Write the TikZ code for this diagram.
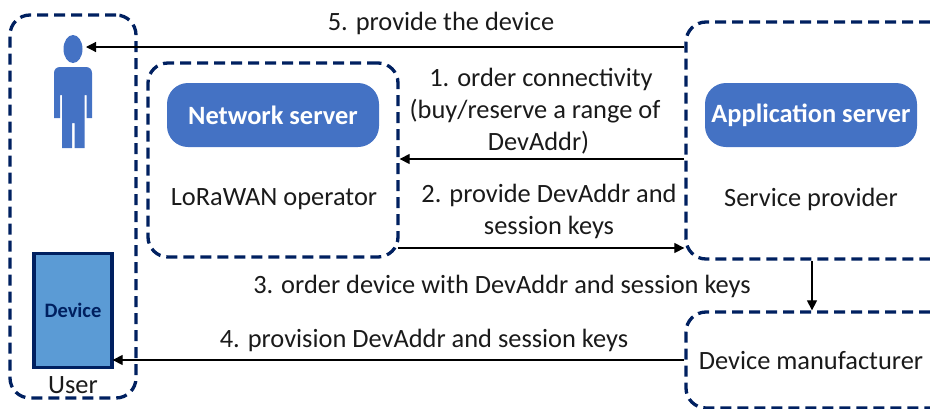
\documentclass[tikz,border=0pt]{standalone}
\usepackage{fontspec}
\setmainfont{Carlito}
\usetikzlibrary{arrows.meta,calc,shapes.geometric}
\definecolor{navy}{HTML}{002060}
\definecolor{blueA}{HTML}{4472C4}
\definecolor{blueB}{HTML}{5B9BD5}
\definecolor{txt}{HTML}{1A1A1A}
\tikzset{
  x=1pt,y=-1pt,
  dashbox/.style={draw=navy,line width=3.3pt,dash pattern=on 11pt off 6pt,rounded corners=20pt,inner sep=0pt,minimum width=#1},
  srv/.style={fill=blueA,rounded corners=21pt,text=white,font=\fontsize{26.4}{30}\selectfont\bfseries,inner sep=0pt,minimum height=64pt},
  lab/.style={text=txt,font=\fontsize{26.4}{32}\selectfont,align=center,inner sep=0pt},
  conn/.style={draw=black,line width=1.2pt,-{Triangle[length=10pt,width=10pt]}},
}
\begin{document}
\begin{tikzpicture}
\useasboundingbox (0,0) rectangle (930,408);
\clip (0,0) rectangle (930,408);
% boxes
\node[dashbox=126pt,minimum height=383pt] (user) at (73,206.5) {};
\node[dashbox=250pt,minimum height=194pt] (net) at (273,160) {};
\node[dashbox=264pt,minimum height=237pt] (svc) at (818,140.5) {};
\node[dashbox=264pt,minimum height=96pt] (mfr) at (818,360) {};
% servers
\node[srv,minimum width=212pt] (ns) at (273,115) {Network server};
\node[srv,minimum width=212pt] (as) at (811,115) {Application server};
% person
\node[ellipse,fill=blueA,minimum width=19pt,minimum height=28pt,inner sep=0pt] (head) at (73,49) {};
\fill[blueA] (54,118) -- (54,73) .. controls (54,69.5) and (56.5,67) .. (60,67) -- (86,67) .. controls (89.5,67) and (92,69.5) .. (92,73) -- (92,118) -- (86.5,118) -- (86.5,95) -- (84.5,95) -- (84.5,148) -- (74.5,148) -- (74.5,123) -- (72,123) -- (72,148) -- (62,148) -- (62,95) -- (60,95) -- (60,118) -- cycle;
% device
\node[draw=navy,line width=3.3pt,fill=blueB,minimum width=78pt,minimum height=114pt,inner sep=0pt,text=navy,font=\fontsize{20.5}{24}\selectfont\bfseries] (dev) at (73,310.5) {Device};
% labels
\node[lab] (userl) at (73,385) {User};
\node[lab] (lw) at (274,199) {LoRaWAN operator};
\node[lab] (sp) at (811,199) {Service provider};
\node[lab] (dm) at (811,361) {Device manufacturer};
\node[lab] (l5) at (441,23) {5. provide the device};
\node[lab] (l1) at (535,111) {\hspace*{12pt}1. order connectivity\\(buy/reserve a range of\\\hspace*{7pt}DevAddr)};
\node[lab] (l2) at (549,211) {2. provide DevAddr and\\session keys};
\node[lab] (l3) at (502,286) {3. order device with DevAddr and session keys};
\node[lab] (l4) at (424,340) {4. provision DevAddr and session keys};
% connectors
\path (86,47) coordinate (y5) (0,159) coordinate (y1) (0,248) coordinate (y2) (0,360) coordinate (y4) (812,0) coordinate (x3);
\draw[conn] (svc.west |- y5) -- (y5);
\draw[conn] (svc.west |- y1) -- (net.east |- y1);
\draw[conn] ([xshift=-2pt]net.east |- y2) -- (svc.west |- y2);
\draw[conn] (x3 |- svc.south) -- (x3 |- mfr.north);
\draw[conn] (mfr.west |- y4) -- ([xshift=-1pt]dev.east |- y4);
\end{tikzpicture}
\end{document}
